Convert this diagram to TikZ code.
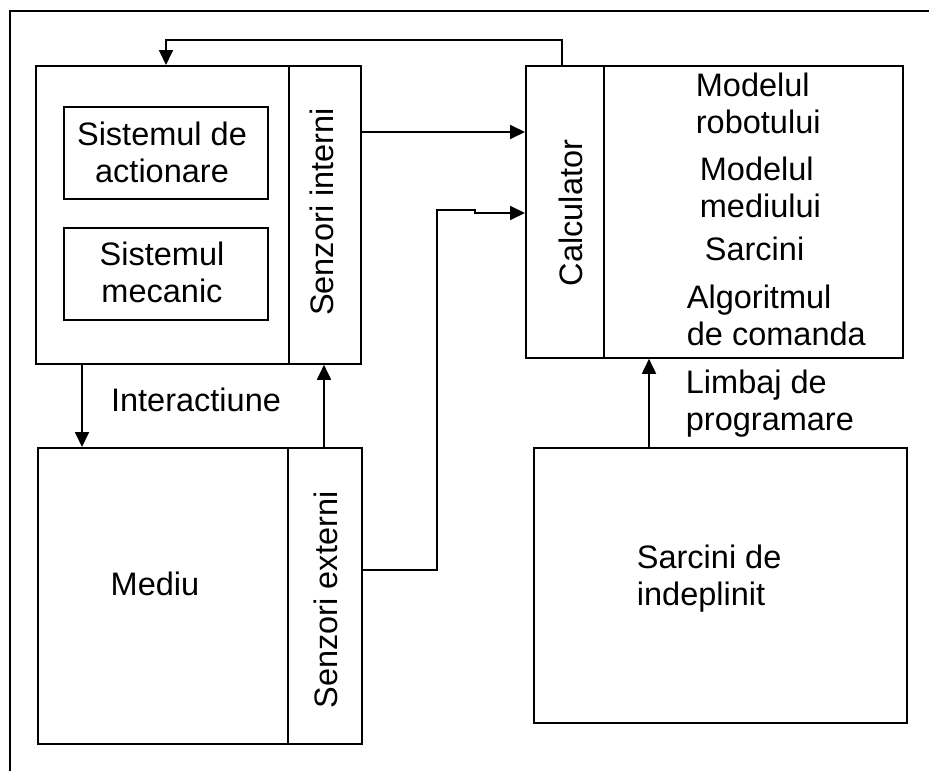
\documentclass[tikz,border=0pt]{standalone}
\usepackage{fontspec}
\setmainfont{Liberation Sans}
\usetikzlibrary{arrows.meta}
\begin{document}
\begin{tikzpicture}[x=1pt,y=-1pt,
  line width=1.8pt,
  box/.style={draw, rectangle, inner sep=0pt, anchor=north west},
  lbl/.style={inner sep=0pt, font=\fontsize{32.5}{37}\selectfont},
  arr/.style={-{Triangle[length=15pt,width=14pt]}}]
\useasboundingbox (0,0) rectangle (929,771);
% frame (only its top and left edges lie inside the page)
\draw (940,11) -- (10,11) -- (10,780);

% robot block with its internal sensors
\node[box, minimum width=325pt, minimum height=298pt] (robot) at (35,65) {};
\node[box, minimum width=72pt, minimum height=298pt] (sint) at (288,65) {};
\node[box, minimum width=204pt, minimum height=92pt] (act) at (63,106) {};
\node[box, minimum width=204pt, minimum height=92pt] (mec) at (63,227) {};
% multi-line labels are placed by the baseline of their last line
\node[lbl, align=center, anchor=base] (actT) at (162,182) {Sistemul de\\actionare};
\node[lbl, align=center, anchor=base] (mecT) at (162,302) {Sistemul\\mecanic};
\node[lbl, rotate=90, anchor=base] (sintT) at (333,212) {Senzori interni};

% environment block with its external sensors
\node[box, minimum width=324pt, minimum height=296pt] (env) at (37,447) {};
\node[box, minimum width=74pt, minimum height=296pt] (sext) at (287,447) {};
\node[lbl, anchor=base] (envT) at (155,595) {Mediu};
\node[lbl, rotate=90, anchor=base] (sextT) at (337,600) {Senzori externi};
\node[lbl, anchor=base] (interT) at (196,411) {Interactiune};

% computer block
\node[box, minimum width=377pt, minimum height=292pt] (calc) at (525,65) {};
\node[box, minimum width=78pt, minimum height=292pt] (calcL) at (525,65) {};
\node[lbl, rotate=90, anchor=base] (calcT) at (582,213) {Calculator};
\node[lbl, align=left, anchor=base west] (m1) at (695,133) {Modelul\\robotului};
\node[lbl, align=left, anchor=base west] (m2) at (699,217) {Modelul\\mediului};
\node[lbl, anchor=base west] (m3) at (704,260) {Sarcini};
\node[lbl, align=left, anchor=base west] (m4) at (686,345) {Algoritmul\\de comanda};

% task block
\node[box, minimum width=373pt, minimum height=275pt] (task) at (533,447) {};
\node[lbl, align=left, anchor=base west] (taskT) at (636,605) {Sarcini de\\indeplinit};
\node[lbl, align=left, anchor=base west] (langT) at (685,430) {Limbaj de\\programare};

% connectors
\coordinate (fbA) at (562,40);
\coordinate (fbB) at (166,40);
\draw[arr] (calc.north -| fbA) -- (fbA) -- (fbB) -- (robot.north -| fbB);
\coordinate (si) at (360,132);
\draw[arr] (si) -- (calc.west |- si);
\coordinate (seA) at (437,570);
\coordinate (seB) at (437,210);
\coordinate (seC) at (475,210);
\coordinate (seD) at (475,213);
\draw[arr] (sext.east |- seA) -- (seA) -- (seB) -- (seC) -- (seD) -- (calc.west |- seD);
\coordinate (dn) at (82,0);
\draw[arr] (robot.south -| dn) -- (env.north -| dn);
\coordinate (up) at (324,0);
\draw[arr] (env.north -| up) -- (robot.south -| up);
\coordinate (pg) at (649,0);
\draw[arr] (task.north -| pg) -- (calc.south -| pg);
\end{tikzpicture}
\end{document}
